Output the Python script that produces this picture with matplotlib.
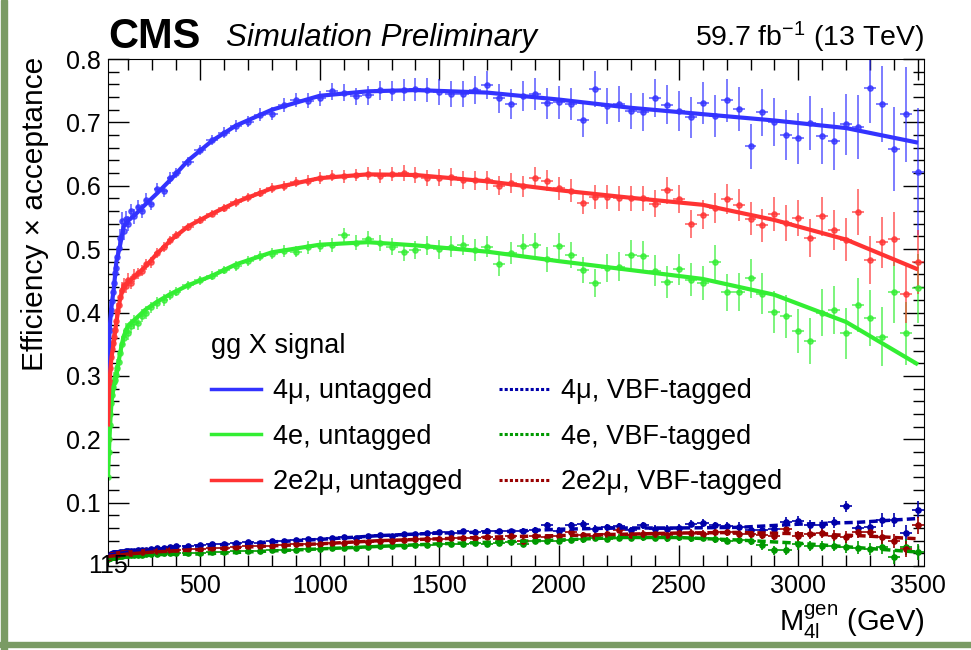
import numpy as np
import matplotlib
matplotlib.use("Agg")
import matplotlib.pyplot as plt
from matplotlib.lines import Line2D
from matplotlib.patches import Rectangle

plt.rcParams['font.family'] = ['Liberation Sans', 'DejaVu Sans']
plt.rcParams['mathtext.fontset'] = 'custom'
plt.rcParams['mathtext.rm'] = 'Liberation Sans'
plt.rcParams['mathtext.it'] = 'Liberation Sans:italic'

# ---- data ----
# bin centres (GeV): fine bins at low mass, 50 GeV bins from 400 on
mass = [116, 118, 120, 122, 125, 128, 131, 135, 139, 143, 148, 153, 159, 165,
        172, 180, 190, 200, 212, 225, 240, 256, 274, 295, 320, 350, 375] + list(range(400, 3501, 50))

# untagged efficiencies
eff_4mu = [0.310, 0.350, 0.340, 0.372, 0.398, 0.404, 0.418, 0.432, 0.447, 0.462, 0.470, 0.488, 0.502, 0.518,
           0.545, 0.528, 0.548, 0.540, 0.560, 0.552, 0.566, 0.560, 0.578, 0.572, 0.595, 0.592, 0.612,
           0.620, 0.638, 0.656, 0.672, 0.684, 0.694, 0.701, 0.712, 0.714, 0.728, 0.735, 0.734, 0.738,
           0.749, 0.747, 0.741, 0.743, 0.751, 0.749, 0.751, 0.752, 0.751, 0.748,
           0.745, 0.745, 0.751, 0.759, 0.738, 0.729, 0.742, 0.745, 0.730, 0.732,
           0.729, 0.704, 0.753, 0.726, 0.729, 0.718, 0.717, 0.738, 0.728, 0.718,
           0.708, 0.731, 0.710, 0.735, 0.721, 0.662, 0.716, 0.700, 0.680, 0.675,
           0.699, 0.679, 0.671, 0.697, 0.693, 0.754, 0.729, 0.658, 0.713, 0.622]
err_4mu = [0.020, 0.020, 0.020, 0.020, 0.018, 0.018, 0.016, 0.016, 0.015, 0.015, 0.015, 0.014, 0.014, 0.014,
           0.013, 0.013, 0.012, 0.012, 0.012, 0.012, 0.011, 0.011, 0.010, 0.010, 0.010, 0.009, 0.009,
           0.008, 0.008, 0.008, 0.008, 0.009, 0.009, 0.009, 0.010, 0.010, 0.011, 0.011, 0.012, 0.012,
           0.013, 0.013, 0.014, 0.015, 0.015, 0.016, 0.017, 0.018, 0.019, 0.020,
           0.020, 0.021, 0.022, 0.022, 0.023, 0.024, 0.024, 0.025, 0.025, 0.026,
           0.026, 0.027, 0.028, 0.028, 0.029, 0.029, 0.030, 0.030, 0.031, 0.031,
           0.032, 0.033, 0.033, 0.034, 0.035, 0.036, 0.037, 0.038, 0.039, 0.040,
           0.042, 0.044, 0.046, 0.048, 0.050, 0.055, 0.060, 0.066, 0.075, 0.100]

eff_4e = [0.140, 0.180, 0.200, 0.222, 0.240, 0.258, 0.270, 0.282, 0.290, 0.294, 0.302, 0.312, 0.322, 0.336,
          0.350, 0.360, 0.372, 0.368, 0.378, 0.385, 0.383, 0.395, 0.400, 0.408, 0.415, 0.420, 0.428,
          0.433, 0.443, 0.451, 0.458, 0.467, 0.474, 0.481, 0.489, 0.493, 0.497, 0.496, 0.503, 0.505,
          0.507, 0.522, 0.510, 0.516, 0.510, 0.504, 0.496, 0.499, 0.505, 0.500,
          0.504, 0.506, 0.499, 0.504, 0.476, 0.494, 0.505, 0.506, 0.484, 0.505,
          0.491, 0.467, 0.447, 0.470, 0.472, 0.491, 0.489, 0.466, 0.448, 0.468,
          0.452, 0.446, 0.479, 0.432, 0.432, 0.454, 0.430, 0.401, 0.394, 0.371,
          0.355, 0.400, 0.404, 0.367, 0.412, 0.391, 0.362, 0.432, 0.367, 0.438]
err_4e = [0.022, 0.022, 0.020, 0.020, 0.018, 0.018, 0.017, 0.016, 0.016, 0.015, 0.015, 0.014, 0.014, 0.013,
          0.013, 0.012, 0.012, 0.012, 0.011, 0.011, 0.010, 0.010, 0.010, 0.009, 0.009, 0.009, 0.008,
          0.007, 0.007, 0.007, 0.007, 0.007, 0.008, 0.008, 0.008, 0.009, 0.009, 0.009, 0.010, 0.010,
          0.011, 0.011, 0.012, 0.012, 0.013, 0.013, 0.014, 0.014, 0.015, 0.015,
          0.016, 0.016, 0.017, 0.017, 0.018, 0.018, 0.019, 0.019, 0.020, 0.020,
          0.021, 0.021, 0.022, 0.022, 0.023, 0.023, 0.024, 0.024, 0.025, 0.025,
          0.026, 0.027, 0.028, 0.029, 0.030, 0.031, 0.032, 0.033, 0.034, 0.035,
          0.036, 0.037, 0.038, 0.040, 0.042, 0.044, 0.046, 0.048, 0.050, 0.055]

eff_2e2mu = [0.200, 0.250, 0.272, 0.290, 0.312, 0.330, 0.342, 0.352, 0.362, 0.372, 0.386, 0.402, 0.412, 0.424,
             0.436, 0.444, 0.442, 0.452, 0.447, 0.458, 0.462, 0.466, 0.476, 0.479, 0.494, 0.503, 0.514,
             0.522, 0.535, 0.546, 0.556, 0.565, 0.574, 0.582, 0.589, 0.596, 0.600, 0.606, 0.608, 0.612,
             0.616, 0.615, 0.617, 0.619, 0.615, 0.618, 0.620, 0.617, 0.612, 0.613,
             0.614, 0.609, 0.609, 0.609, 0.600, 0.604, 0.599, 0.613, 0.608, 0.596,
             0.592, 0.573, 0.583, 0.583, 0.580, 0.580, 0.580, 0.572, 0.593, 0.579,
             0.540, 0.554, 0.565, 0.579, 0.570, 0.548, 0.538, 0.556, 0.541, 0.549,
             0.517, 0.552, 0.530, 0.515, 0.559, 0.483, 0.511, 0.516, 0.429, 0.480]
err_2e2mu = [0.020, 0.020, 0.018, 0.018, 0.016, 0.016, 0.015, 0.015, 0.014, 0.014, 0.013, 0.013, 0.012, 0.012,
             0.012, 0.011, 0.011, 0.010, 0.010, 0.010, 0.009, 0.009, 0.009, 0.008, 0.008, 0.008, 0.007,
             0.006, 0.006, 0.006, 0.006, 0.006, 0.007, 0.007, 0.007, 0.008, 0.008, 0.008, 0.009, 0.009,
             0.009, 0.010, 0.010, 0.010, 0.011, 0.011, 0.012, 0.012, 0.013, 0.013,
             0.014, 0.014, 0.015, 0.015, 0.015, 0.016, 0.016, 0.017, 0.017, 0.018,
             0.018, 0.018, 0.019, 0.019, 0.020, 0.020, 0.020, 0.021, 0.021, 0.022,
             0.022, 0.023, 0.024, 0.024, 0.025, 0.026, 0.026, 0.027, 0.028, 0.029,
             0.030, 0.031, 0.032, 0.034, 0.036, 0.038, 0.040, 0.043, 0.046, 0.050]

# VBF-tagged efficiencies
vbf_4mu = [0.016, 0.017, 0.017, 0.018, 0.018, 0.019, 0.019, 0.020, 0.020, 0.020, 0.021, 0.021, 0.021, 0.022,
           0.022, 0.022, 0.023, 0.023, 0.024, 0.024, 0.025, 0.025, 0.026, 0.027, 0.028, 0.029, 0.030,
           0.031, 0.032, 0.033, 0.034, 0.035, 0.036, 0.038, 0.037, 0.039, 0.040, 0.041, 0.043, 0.042,
           0.045, 0.046, 0.045, 0.048, 0.049, 0.048, 0.051, 0.050, 0.052, 0.053,
           0.052, 0.055, 0.054, 0.056, 0.055, 0.055, 0.056, 0.057, 0.064, 0.056,
           0.064, 0.067, 0.059, 0.061, 0.063, 0.057, 0.064, 0.059, 0.059, 0.060,
           0.067, 0.068, 0.064, 0.063, 0.062, 0.057, 0.057, 0.059, 0.069, 0.071,
           0.064, 0.064, 0.069, 0.094, 0.060, 0.062, 0.073, 0.072, 0.052, 0.089]
vbf_4e = [0.011, 0.012, 0.012, 0.013, 0.013, 0.014, 0.014, 0.014, 0.015, 0.015, 0.015, 0.016, 0.016, 0.016,
          0.016, 0.017, 0.017, 0.017, 0.017, 0.018, 0.018, 0.018, 0.019, 0.019, 0.019, 0.020, 0.020,
          0.020, 0.021, 0.021, 0.022, 0.022, 0.023, 0.024, 0.024, 0.025, 0.025, 0.026, 0.027, 0.027,
          0.028, 0.029, 0.029, 0.030, 0.031, 0.031, 0.032, 0.033, 0.033, 0.034,
          0.035, 0.035, 0.036, 0.034, 0.037, 0.038, 0.034, 0.039, 0.039, 0.040,
          0.041, 0.042, 0.044, 0.043, 0.045, 0.044, 0.046, 0.045, 0.044, 0.046,
          0.044, 0.045, 0.043, 0.040, 0.041, 0.040, 0.033, 0.025, 0.026, 0.034,
          0.032, 0.031, 0.032, 0.030, 0.029, 0.027, 0.030, 0.014, 0.030, 0.022]
vbf_2e2mu = [0.014, 0.015, 0.015, 0.016, 0.016, 0.017, 0.017, 0.017, 0.018, 0.018, 0.018, 0.019, 0.019, 0.019,
             0.020, 0.020, 0.020, 0.021, 0.021, 0.021, 0.022, 0.022, 0.023, 0.023, 0.024, 0.025, 0.025,
             0.026, 0.027, 0.027, 0.028, 0.029, 0.030, 0.031, 0.031, 0.032, 0.033, 0.034, 0.035, 0.035,
             0.036, 0.037, 0.038, 0.038, 0.040, 0.040, 0.041, 0.042, 0.043, 0.043,
             0.044, 0.045, 0.044, 0.046, 0.043, 0.047, 0.040, 0.047, 0.046, 0.048,
             0.054, 0.049, 0.048, 0.050, 0.057, 0.049, 0.051, 0.050, 0.049, 0.052,
             0.052, 0.051, 0.053, 0.054, 0.050, 0.051, 0.049, 0.048, 0.059, 0.048,
             0.051, 0.052, 0.048, 0.046, 0.054, 0.054, 0.046, 0.040, 0.027, 0.064]
vbf_err = [0.002, 0.002, 0.002, 0.002, 0.002, 0.002, 0.002, 0.002, 0.002, 0.002, 0.002, 0.002, 0.002, 0.002,
           0.002, 0.002, 0.002, 0.002, 0.002, 0.002, 0.002, 0.002, 0.002, 0.002, 0.002, 0.002, 0.002,
           0.002, 0.002, 0.002, 0.002, 0.002, 0.002, 0.002, 0.002, 0.003, 0.003, 0.003, 0.003, 0.003,
           0.003, 0.003, 0.003, 0.003, 0.003, 0.003, 0.003, 0.003, 0.004, 0.004,
           0.004, 0.004, 0.004, 0.004, 0.004, 0.004, 0.004, 0.005, 0.005, 0.005,
           0.005, 0.005, 0.005, 0.005, 0.005, 0.005, 0.006, 0.006, 0.006, 0.006,
           0.006, 0.006, 0.006, 0.006, 0.007, 0.007, 0.007, 0.007, 0.008, 0.008,
           0.008, 0.008, 0.009, 0.009, 0.010, 0.010, 0.011, 0.011, 0.012, 0.013]

# smooth fits
fit_mass = [115, 120, 125, 130, 140, 150, 165, 180, 200, 230, 270, 320, 380, 450, 550, 650, 800,
            1000, 1200, 1400, 1700, 2000, 2300, 2600, 2900, 3200, 3500]
fit_4mu = [0.300, 0.360, 0.390, 0.410, 0.440, 0.480, 0.505, 0.535, 0.545, 0.555, 0.570, 0.588, 0.611,
           0.640, 0.671, 0.695, 0.720, 0.742, 0.749, 0.751, 0.747, 0.736, 0.723, 0.713, 0.703, 0.691, 0.668]
fit_4e = [0.140, 0.190, 0.230, 0.260, 0.285, 0.300, 0.335, 0.362, 0.380, 0.390, 0.404, 0.417, 0.430,
          0.443, 0.458, 0.476, 0.495, 0.507, 0.511, 0.506, 0.496, 0.481, 0.467, 0.453, 0.428, 0.385, 0.318]
fit_2e2mu = [0.220, 0.280, 0.310, 0.330, 0.355, 0.385, 0.420, 0.441, 0.448, 0.458, 0.472, 0.493, 0.515,
             0.536, 0.556, 0.574, 0.596, 0.612, 0.618, 0.617, 0.607, 0.593, 0.581, 0.570, 0.546, 0.515, 0.468]

vbf_fit_mass = [115, 200, 300, 500, 750, 1000, 1250, 1500, 1750, 2000, 2250, 2500, 2750, 3000, 3250, 3500]
vbf_fit_4mu = [0.017, 0.022, 0.026, 0.032, 0.037, 0.042, 0.048, 0.052, 0.054, 0.058, 0.060, 0.060, 0.061, 0.066, 0.069, 0.075]
vbf_fit_4e = [0.012, 0.015, 0.018, 0.019, 0.023, 0.027, 0.031, 0.035, 0.038, 0.041, 0.045, 0.045, 0.041, 0.036, 0.029, 0.022]
vbf_fit_2e2mu = [0.015, 0.019, 0.022, 0.026, 0.031, 0.035, 0.040, 0.043, 0.046, 0.048, 0.050, 0.052, 0.053, 0.051, 0.048, 0.043]

labels_untagged = ["4\u03bc, untagged", "4e, untagged", "2e2\u03bc, untagged"]
labels_vbf = ["4\u03bc, VBF-tagged", "4e, VBF-tagged", "2e2\u03bc, VBF-tagged"]

col_untagged = ["#3333ff", "#33ee33", "#ff3333"]
col_vbf = ["#0000aa", "#009900", "#990000"]

# ---- figure ----
fig = plt.figure(figsize=(9.71, 6.5), dpi=100)
ax = fig.add_axes([0.1112, 0.1292, 0.8404, 0.78])

xerr = np.gradient(np.array(mass, dtype=float)) / 2

untagged = [(eff_4mu, err_4mu, fit_4mu), (eff_4e, err_4e, fit_4e), (eff_2e2mu, err_2e2mu, fit_2e2mu)]
for (eff, err, fit), c in zip(untagged, col_untagged):
    ax.errorbar(mass, eff, yerr=err, xerr=xerr, fmt='o', ms=3.8, color=c, alpha=0.75,
                elinewidth=1.2, capsize=0, zorder=2)
    ax.plot(fit_mass, fit, color=c, lw=3, zorder=3, solid_capstyle='butt')

vbf = [(vbf_4mu, vbf_fit_4mu), (vbf_4e, vbf_fit_4e), (vbf_2e2mu, vbf_fit_2e2mu)]
for (eff, fit), c in zip(vbf, col_vbf):
    ax.errorbar(mass, eff, yerr=vbf_err, xerr=xerr, fmt='o', ms=3.8, color=c,
                elinewidth=1.2, capsize=0, zorder=2)
    ax.plot(vbf_fit_mass, fit, color=c, lw=2.5, ls=(0, (2.4, 1.2)), zorder=3)

ax.set_xlim(115, 3525)
ax.set_ylim(0, 0.8)
ax.set_xticks(range(500, 3501, 500))
ax.set_xticks(range(200, 3501, 100), minor=True)
ax.set_yticks([0.1, 0.2, 0.3, 0.4, 0.5, 0.6, 0.7, 0.8])
ax.set_yticklabels(["0.1", "0.2", "0.3", "0.4", "0.5", "0.6", "0.7", "0.8"])
ax.set_yticks(np.arange(0, 0.801, 0.02), minor=True)
ax.tick_params(which='both', direction='in', top=True, right=True, labelsize=18, width=1)
ax.tick_params(which='major', length=15)
ax.tick_params(which='minor', length=8)
ax.tick_params(axis='y', pad=5)
ax.tick_params(axis='x', pad=6)
ax.text(115, 0, "115", ha='center', va='center', fontsize=18, clip_on=False)

# legend
handles = [Line2D([], [], color=c, lw=2.5) for c in col_untagged] + \
          [Line2D([], [], color=c, lw=2.2, ls=(0, (1, 0.7))) for c in col_vbf]
leg = fig.legend(handles, labels_untagged + labels_vbf, ncol=2, title="gg X signal",
                 loc='upper left', bbox_to_anchor=(0.217, 0.488), frameon=False,
                 fontsize=19.5, title_fontsize=19.5, handlelength=1.85, handletextpad=0.45,
                 columnspacing=1.35, labelspacing=0.72, alignment='left',
                 borderpad=0, borderaxespad=0)

# header texts
fig.text(0.1112, 0.926, "CMS", fontsize=30, fontweight='bold', ha='left', va='baseline')
fig.text(0.2327, 0.929, "Simulation Preliminary", fontsize=22.5, style='italic', ha='left', va='baseline')
fig.text(0.9516, 0.929, "59.7 fb$^{\\mathregular{-1}}$ (13 TeV)", fontsize=20.5, ha='right', va='baseline')
fig.text(0.036, 0.912, "Efficiency \u00d7 acceptance", fontsize=21.5, rotation=90, ha='center', va='top')
fig.text(0.9516, 1 - 631 / 650, "$\\mathregular{M_{4l}^{gen}}$ (GeV)", fontsize=21, ha='right', va='baseline')

# green frame of the slide
fig.patches.append(Rectangle((1 / 971, 0), 6 / 971, 1, transform=fig.transFigure,
                             color='#7a9b64', zorder=10))
fig.patches.append(Rectangle((0, 3 / 650), 1, 5 / 650, transform=fig.transFigure,
                             color='#7a9b64', zorder=10))

fig.savefig("out.png", dpi=100)
